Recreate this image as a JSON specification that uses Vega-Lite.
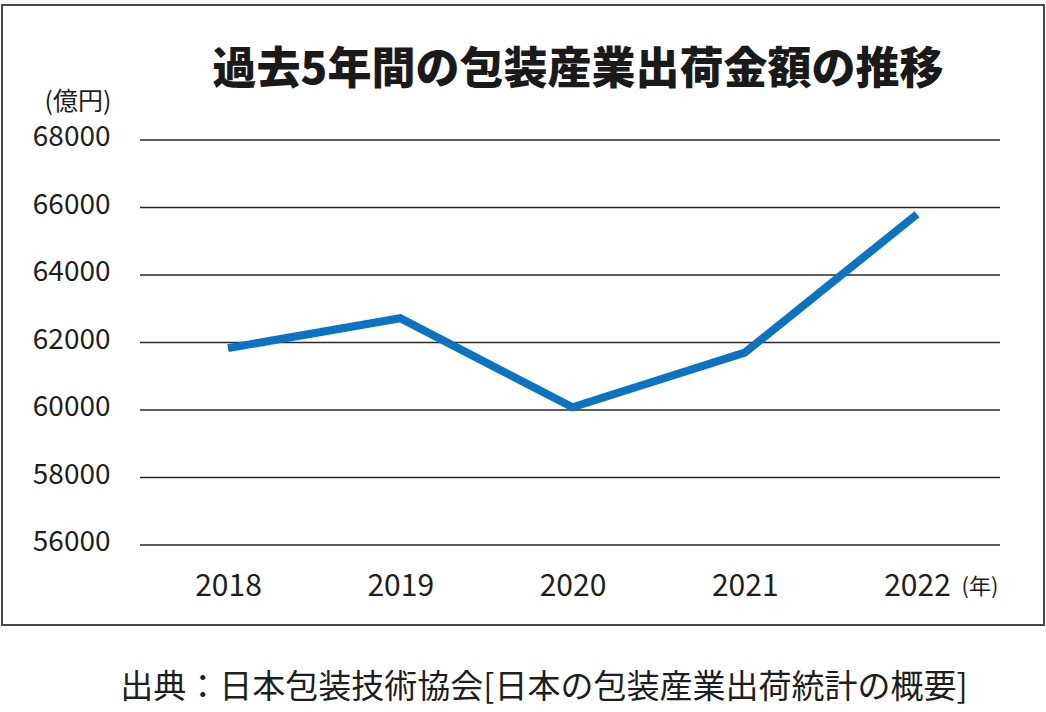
{
  "$schema": "https://vega.github.io/schema/vega-lite/v6.json",
  "width": 1042,
  "height": 620,
  "autosize": {"type": "none"},
  "padding": {"left": 2, "top": 5, "right": 2, "bottom": 87},
  "background": "white",
  "config": {
    "view": {"stroke": "#4a4a4a", "strokeWidth": 2},
    "font": "Noto Sans CJK JP"
  },
  "title": {
    "text": "過去5年間の包装産業出荷金額の推移",
    "font": "Noto Sans CJK JP",
    "fontSize": 44,
    "fontWeight": 900,
    "color": "#1a1a1a",
    "anchor": "middle",
    "baseline": "middle",
    "offset": 0,
    "dx": 55,
    "dy": 110
  },
  "datasets": {
    "sales": [
      {"year": 2018, "value": 61834},
      {"year": 2019, "value": 62720},
      {"year": 2020, "value": 60080},
      {"year": 2021, "value": 61700},
      {"year": 2022, "value": 65800}
    ],
    "grid": [
      {"value": 56000},
      {"value": 58000},
      {"value": 60000},
      {"value": 62000},
      {"value": 64000},
      {"value": 66000},
      {"value": 68000}
    ]
  },
  "layer": [
    {
      "data": {"name": "grid"},
      "mark": {"type": "rule", "color": "#2a2a2a", "strokeWidth": 1.3},
      "encoding": {
        "y": {"field": "value", "type": "quantitative",
          "scale": {"domain": [53629.6, 72000], "nice": false, "zero": false},
          "axis": {
            "values": [56000, 58000, 60000, 62000, 64000, 66000, 68000],
            "format": "d",
            "orient": "left",
            "offset": -108,
            "domain": false,
            "ticks": false,
            "grid": false,
            "labelPadding": 0,
            "labelAlign": "right",
            "labelBaseline": "middle",
            "labelOffset": -2,
            "labelFontSize": 28,
            "labelFont": "Noto Sans CJK JP",
            "labelColor": "#1e1e1e",
            "title": null
          }
        },
        "x": {"datum": 2017.4891, "type": "quantitative",
          "scale": {"domain": [2016.688, 2022.7373], "nice": false, "zero": false},
          "axis": {
            "values": [2018, 2019, 2020, 2021, 2022],
            "format": "d",
            "orient": "bottom",
            "offset": -39,
            "domain": false,
            "ticks": false,
            "grid": false,
            "labelPadding": 0,
            "labelBaseline": "middle",
            "labelFontSize": 30,
            "labelFont": "Noto Sans CJK JP",
            "labelColor": "#1e1e1e",
            "title": null
          }
        },
        "x2": {"datum": 2022.4819}
      }
    },
    {
      "data": {"name": "sales"},
      "mark": {"type": "line", "color": "#0a74c2", "strokeWidth": 8, "strokeCap": "butt", "strokeJoin": "miter"},
      "encoding": {
        "x": {"field": "year", "type": "quantitative"},
        "y": {"field": "value", "type": "quantitative"}
      }
    },
    {
      "data": {"values": [{}]},
      "mark": {"type": "text", "text": "(億円)", "fontSize": 25, "font": "Noto Sans CJK JP", "color": "#1e1e1e", "align": "center", "baseline": "middle"},
      "encoding": {
        "x": {"datum": 2017.1292, "type": "quantitative"},
        "y": {"datum": 69126, "type": "quantitative"}
      }
    },
    {
      "data": {"values": [{}]},
      "mark": {"type": "text", "text": "(年)", "fontSize": 22, "font": "Noto Sans CJK JP", "color": "#1e1e1e", "align": "center", "baseline": "middle"},
      "encoding": {
        "x": {"datum": 2022.366, "type": "quantitative"},
        "y": {"datum": 54755, "type": "quantitative"}
      }
    },
    {
      "data": {"values": [{}]},
      "mark": {"type": "text", "text": "出典：日本包装技術協会[日本の包装産業出荷統計の概要]", "fontSize": 33, "font": "Noto Sans CJK JP", "fontWeight": 400, "color": "#1e1e1e", "align": "center", "baseline": "middle"},
      "encoding": {
        "x": {"datum": 2019.8345, "type": "quantitative"},
        "y": {"datum": 51763, "type": "quantitative"}
      }
    }
  ]
}
